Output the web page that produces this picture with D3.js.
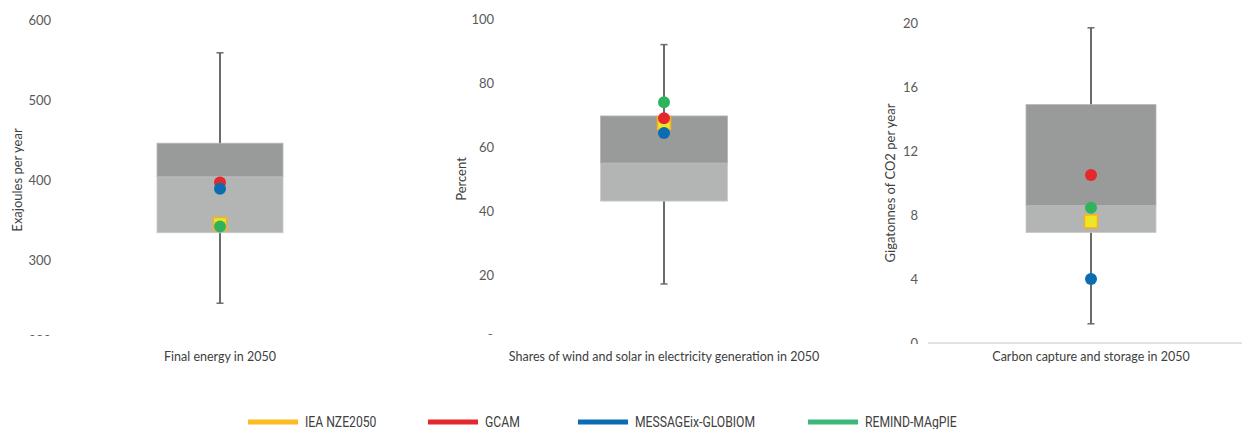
<!DOCTYPE html>
<html>
<head>
<meta charset="utf-8">
<script src="https://cdn.jsdelivr.net/npm/d3@7"></script>
<style>
  body { margin: 0; background: #fff; }
  svg { display: block; }
  .tick text { fill: #595959; }
</style>
</head>
<body>
<div id="chart"></div>
<script>
// ---- data ----
const panelLabels = ["Final energy in 2050", "Shares of wind and solar in electricity generation in 2050", "Carbon capture and storage in 2050"];
const axisTitles = ["Exajoules per year", "Percent", "Gigatonnes of CO2 per year"];
const tickValues = [[200, 300, 400, 500, 600], [0, 20, 40, 60, 80, 100], [0, 4, 8, 12, 16, 20]];
const tickLabels = [["200", "300", "400", "500", "600"], ["0", "20", "40", "60", "80", "100"], ["0", "4", "8", "12", "16", "20"]];

const whiskerLow  = [246, 17.2, 1.2];
const quartile1   = [334, 43.1, 6.9];
const medians     = [404, 55, 8.6];
const quartile3   = [446, 69.7, 14.9];
const whiskerHigh = [559, 92, 19.7];

const models = ["IEA NZE2050", "GCAM", "MESSAGEix-GLOBIOM", "REMIND-MAgPIE"];
const ieaValues     = [345, 67.5, 7.6];
const gcamValues    = [397, 69, 10.5];
const messageValues = [389, 64.4, 4.0];
const remindValues  = [342, 74, 8.45];

// ---- layout ----
var width = 1242, height = 429;
var axisX = [51, 494, 918];          // where tick labels end
var boxCenter = [220, 664, 1091];
var boxWidth = [126, 127, 130];
var yTop = [20, 19, 23], yBottom = [340, 339, 343];
var titleX = [17, 461, 890];
var labelY = 357;

var modelColors = ["#fbbb21", "#e5282c", "#0b6cb4", "#2fb35c"];
var legendColors = ["#fbbb21", "#e5282c", "#0b6cb4", "#3bb77b"];
var legendStart = [248, 428, 578, 808];

var svg = d3.select("#chart").append("svg")
  .attr("width", width)
  .attr("height", height);

var defs = svg.append("defs");

panelLabels.forEach(function(label, i) {
  var y = d3.scaleLinear()
    .domain([tickValues[i][0], tickValues[i][tickValues[i].length - 1]])
    .range([yBottom[i], yTop[i]]);

  var g = svg.append("g").attr("class", "panel");

  // bottom tick label is cut off in the original
  defs.append("clipPath").attr("id", "clip" + i)
    .append("rect")
    .attr("x", -axisX[i]).attr("y", 0)
    .attr("width", width)
    .attr("height", yBottom[i] - 4 + (i == 2 ? 5 : 0));

  var yAxis = d3.axisLeft(y)
    .tickValues(tickValues[i])
    .tickFormat((d, k) => tickLabels[i][k])
    .tickSize(0)
    .tickPadding(0);

  g.append("g")
    .attr("transform", `translate(${axisX[i]},0)`)
    .attr("clip-path", `url(#clip${i})`)
    .call(yAxis)
    .call(a => a.select(".domain").remove())
    .selectAll("text")
    .style("font-family", "Lato, 'Open Sans', sans-serif")
    .style("font-size", "13px");

  // axis title
  g.append("text")
    .attr("transform", `translate(${titleX[i]},${(yTop[i] + yBottom[i]) / 2}) rotate(-90)`)
    .attr("text-anchor", "middle")
    .attr("dy", "0.35em")
    .style("font-family", "Lato, 'Open Sans', sans-serif")
    .style("font-size", "13px")
    .style("fill", "#404040")
    .text(axisTitles[i]);

  // baseline only visible in the last panel
  if (i == 2) {
    g.append("line")
      .attr("x1", 928).attr("x2", width)
      .attr("y1", y(0)).attr("y2", y(0))
      .style("stroke", "#d9d9d9")
      .style("stroke-width", 1.5);
  }

  // whisker
  var cx = boxCenter[i];
  g.append("line")
    .attr("x1", cx).attr("x2", cx)
    .attr("y1", y(whiskerLow[i])).attr("y2", y(whiskerHigh[i]))
    .style("stroke", "#6b6b6b")
    .style("stroke-width", 2);
  [whiskerLow[i], whiskerHigh[i]].forEach(function(v) {
    g.append("line")
      .attr("x1", cx - 3.5).attr("x2", cx + 3.5)
      .attr("y1", y(v)).attr("y2", y(v))
      .style("stroke", "#6b6b6b")
      .style("stroke-width", 1.5);
  });

  // box: lower part (q1 - median), upper part (median - q3)
  g.append("rect")
    .attr("x", cx - boxWidth[i] / 2)
    .attr("width", boxWidth[i])
    .attr("y", y(medians[i]))
    .attr("height", y(quartile1[i]) - y(medians[i]))
    .style("fill", "#b3b5b5")
    .style("stroke", "#c9cbcb")
    .style("stroke-width", 0.8);
  g.append("rect")
    .attr("x", cx - boxWidth[i] / 2)
    .attr("width", boxWidth[i])
    .attr("y", y(quartile3[i]))
    .attr("height", y(medians[i]) - y(quartile3[i]))
    .style("fill", "#999b9b")
    .style("stroke", "#b5b7b7")
    .style("stroke-width", 0.8);

  // model points, IEA as a square underneath
  g.append("rect")
    .attr("x", cx - 6.5).attr("y", y(ieaValues[i]) - 6.5)
    .attr("width", 13).attr("height", 13)
    .style("fill", "#ede527")
    .style("stroke", "#f6b120")
    .style("stroke-width", 1.5);

  var circles = [
    {v: gcamValues[i], c: modelColors[1]},
    {v: messageValues[i], c: modelColors[2]},
    {v: remindValues[i], c: modelColors[3]}
  ];
  g.selectAll("circle.pt")
    .data(circles)
    .enter()
    .append("circle")
    .attr("class", "pt")
    .attr("cx", cx)
    .attr("cy", d => y(d.v))
    .attr("r", 6)
    .style("fill", d => d.c);

  // category label
  g.append("text")
    .attr("x", cx)
    .attr("y", labelY)
    .attr("text-anchor", "middle")
    .attr("dy", "0.35em")
    .style("font-family", "Lato, 'Open Sans', sans-serif")
    .style("font-size", "12.5px")
    .style("fill", "#404040")
    .text(label);
});

/* legend - condensed font squeezed horizontally */
var legend = svg.append("g").attr("class", "legend");
models.forEach(function(m, i) {
  legend.append("line")
    .attr("x1", legendStart[i]).attr("x2", legendStart[i] + 50)
    .attr("y1", 422).attr("y2", 422)
    .style("stroke", legendColors[i])
    .style("stroke-width", 5);
  legend.append("text")
    .attr("transform", `translate(${legendStart[i] + 57},422) scale(0.84,1)`)
    .attr("dy", "0.36em")
    .style("font-family", "Roboto, sans-serif")
    .style("font-size", "14.5px")
    .style("fill", "#404040")
    .text(m);
});
</script>
</body>
</html>
